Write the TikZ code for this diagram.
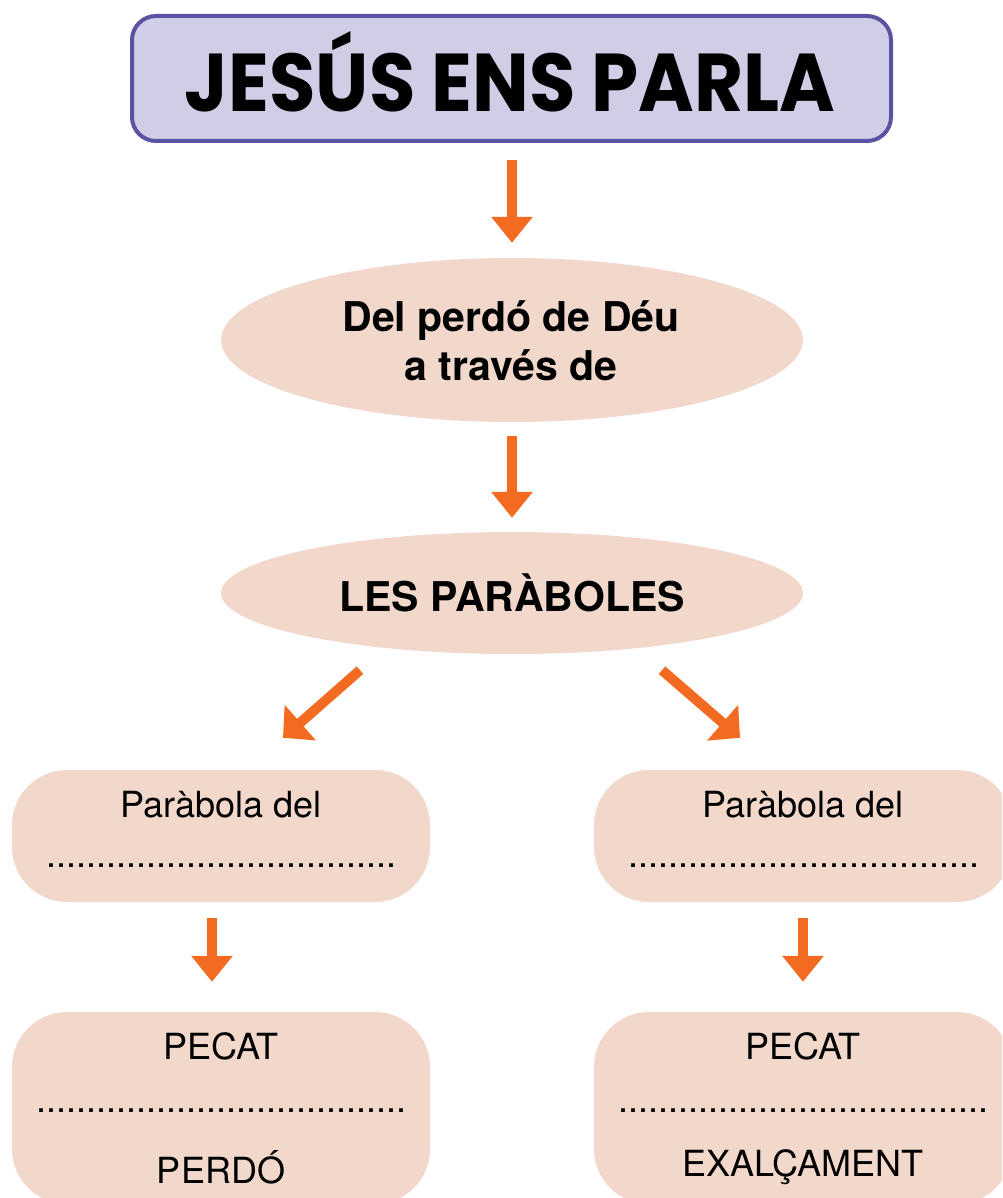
\documentclass[tikz,border=0pt]{standalone}
\usepackage{fontspec}
\setmainfont{TeX Gyre Heros}
\newfontfamily\titlefont{Poppins}
\usetikzlibrary{shapes.geometric,arrows.meta,calc}
\definecolor{arrorange}{HTML}{F26B21}
\definecolor{peach}{HTML}{F2D8CB}
\definecolor{lilac}{HTML}{D0CEE7}
\definecolor{violetline}{HTML}{5A52A3}
\begin{document}
\begin{tikzpicture}[x=1pt,y=-1pt,
  arr/.style={draw=arrorange, line width=10pt, -{Triangle[width=40pt,length=26pt]}, fill=arrorange},
  diagarr/.style={draw=arrorange, line width=10pt, -{Triangle[width=46pt,length=23pt]}, fill=arrorange},
  oval/.style={ellipse, fill=peach, minimum width=582pt, inner sep=0pt},
  pbox/.style={rectangle, rounded corners=55pt, fill=peach, minimum width=418pt, inner sep=0pt},
  boldtxt/.style={font=\fontsize{41}{49}\selectfont\bfseries, align=center, inner sep=0pt},
  lighttxt/.style={font=\fontsize{36}{43}\selectfont, inner sep=0pt}]
\useasboundingbox (0,0) rectangle (1002,1198);
\clip (0,0) rectangle (1002,1198);
% title
\node[draw=violetline, line width=4pt, fill=lilac, rounded corners=24pt,
      minimum width=759pt, minimum height=125pt, inner sep=0pt] (title) at (511.5,78.5) {};
\node[inner sep=0pt] (titletext) at (510,72) {\resizebox{650pt}{80pt}{\titlefont\bfseries JESÚS ENS PARLA}};
% ellipses
\node[oval, minimum height=164pt] (e1) at (512,340) {};
\node[boldtxt] (e1t) at (511,341) {Del perdó de Déu\\a través de};
\node[oval, minimum height=122pt] (e2) at (512,593) {};
\node[boldtxt] (e2t) at (512,593) {LES PARÀBOLES};
% boxes
\node[pbox, minimum height=132pt] (b1) at (221,836) {};
\node[pbox, minimum height=132pt] (b2) at (803,836) {};
\node[pbox, minimum height=192pt] (b3) at (221,1108) {};
\node[pbox, minimum height=192pt] (b4) at (803,1108) {};
% box texts
\node[lighttxt] (b1a) at (221,805) {Paràbola del};
\node[lighttxt] (b1b) at (221.5,866) {...................................};
\node[lighttxt] (b2a) at (803,805) {Paràbola del};
\node[lighttxt] (b2b) at (804,866) {...................................};
\node[lighttxt] (b3a) at (221,1046) {PECAT};
\node[lighttxt] (b3b) at (221.5,1111) {.....................................};
\node[lighttxt] (b3c) at (221,1167) {PERDÓ};
\node[lighttxt] (b4a) at (803,1046) {PECAT};
\node[lighttxt] (b4b) at (803.5,1111) {.....................................};
\node[lighttxt] (b4c) at (803,1167) {EXALÇAMENT};
% arrows
\draw[arr] ($(title.south)+(0.5,17)$) -- ($(e1.north)+(0,-15)$);
\draw[arr] ($(e1.south)+(0,14)$) -- ($(e2.north)+(0,-14)$);
\draw[diagarr] ($(e2.south)+(-152,16)$) -- ($(b1.north)+(62,-32)$);
\draw[diagarr] ($(e2.south)+(150,16)$) -- ($(b2.north)+(-63,-32)$);
\draw[arr] ($(b1.south)+(-9,16)$) -- ($(b3.north)+(-9,-30)$);
\draw[arr] ($(b2.south)+(0,16)$) -- ($(b4.north)+(0,-30)$);
\end{tikzpicture}
\end{document}
